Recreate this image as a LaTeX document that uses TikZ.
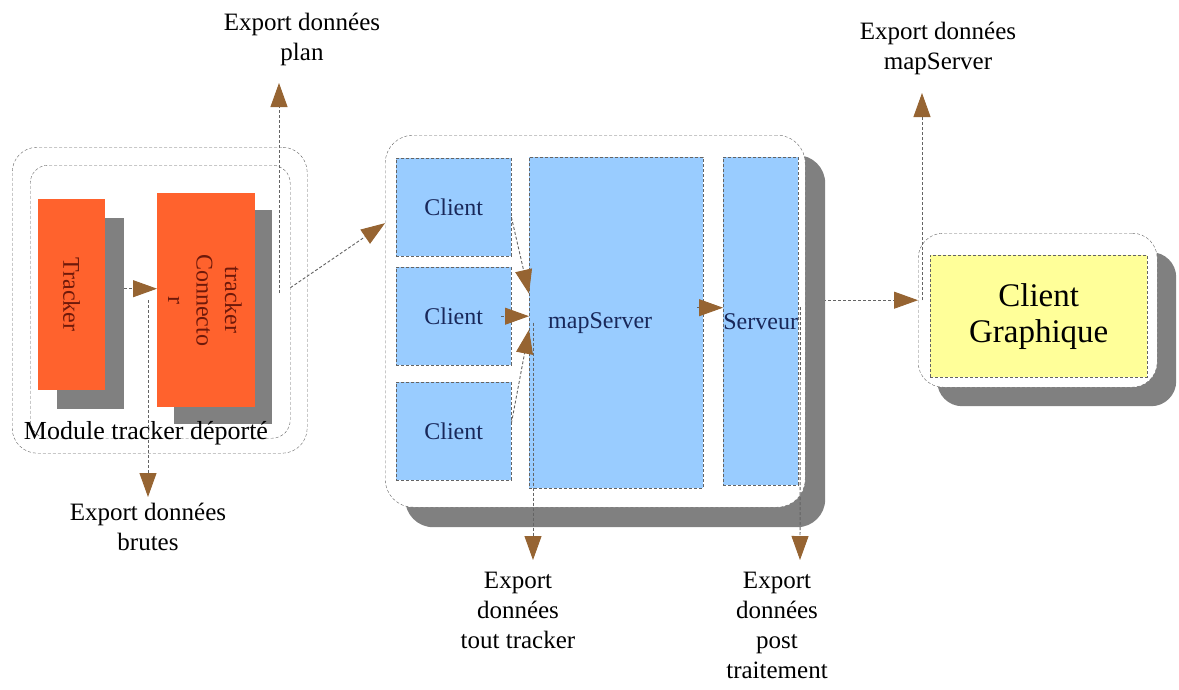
\documentclass[tikz,border=0pt]{standalone}
\usepackage{fontspec}
\setmainfont{Liberation Serif}
\usepackage{graphicx}
\usepackage{tikz}
\usetikzlibrary{arrows.meta, positioning, shadows, backgrounds}

\definecolor{trackorange}{RGB}{255,98,45}
\definecolor{srvblue}{RGB}{153,204,255}
\definecolor{guiyellow}{RGB}{255,255,153}
\definecolor{shadowgray}{RGB}{128,128,128}
\definecolor{tipbrown}{RGB}{150,100,50}
\definecolor{dashgray}{RGB}{100,100,100}
\definecolor{redtext}{RGB}{110,25,10}
\definecolor{bluetext}{RGB}{25,40,90}

\newcommand{\lbltxt}{\fontsize{24}{30}\selectfont}
\newcommand{\exptxt}{\fontsize{25}{30}\selectfont}

\begin{document}
\begin{tikzpicture}[x=1pt, y=-1pt,
        container/.style={draw=dashgray, dash pattern=on 3pt off 2pt, rounded corners=25pt, fill=white, inner sep=0pt, anchor=north west},
        trackbox/.style={fill=trackorange, inner sep=0pt, anchor=north west, text=redtext, font=\lbltxt, align=center},
        srvbox/.style={draw=dashgray, dash pattern=on 3pt off 2pt, fill=srvblue, inner sep=0pt, anchor=north west, text=bluetext, font=\lbltxt},
        exportlbl/.style={font=\exptxt, align=center, inner sep=0pt},
        arrow/.style={draw=dashgray, dash pattern=on 3pt off 2pt, line width=0.9pt, -{Triangle[length=24pt, width=17pt, color=tipbrown]}},
        dropped/.style={drop shadow={shadow xshift=#1, shadow yshift=-#1, fill=shadowgray, opacity=1}}]

        \useasboundingbox (0,0) rectangle (1179,689);

        % Module tracker
        \node[container, fill=none, minimum width=295pt, minimum height=306pt] (modouter) at (12,147) {};
        \node[container, fill=none, rounded corners=18pt, minimum width=260pt, minimum height=273pt] (modinner) at (30,165) {};
        \node[trackbox, dropped=19pt, minimum width=67pt, minimum height=191pt] (tracker) at (38,199) {\rotatebox{-90}{Tracker}};
        \node[trackbox, dropped=17pt, minimum width=98pt, minimum height=214pt] (tconn) at (157,193)
            {\rotatebox{-90}{\fontsize{24}{28.5}\selectfont\begin{tabular}{@{}c@{}}tracker\\Connecto\\r\end{tabular}}\hspace{8pt}};
        \node[font=\fontsize{26}{30}\selectfont, inner sep=0pt] (modlabel) at (146,433) {Module tracker déporté};

        % Server
        \node[container, rounded corners=28pt, dropped=20pt, minimum width=420pt, minimum height=372pt] (midouter) at (385,135) {};
        \node[srvbox, minimum width=115pt, minimum height=98pt] (client1) at (396,158) {Client};
        \node[srvbox, minimum width=115pt, minimum height=98pt] (client2) at (396,267) {Client};
        \node[srvbox, minimum width=115pt, minimum height=98pt] (client3) at (396,382) {Client};
        \node[srvbox, minimum width=174pt, minimum height=331pt,
            label={[font=\lbltxt, text=bluetext, anchor=west, xshift=19pt, inner sep=0pt]west:mapServer}] (mapserver) at (529,157) {};
        \node[srvbox, minimum width=75pt, minimum height=328pt] (serveur) at (723,157) {Serveur};

        % Graphic client
        \node[container, dropped=19pt, minimum width=239pt, minimum height=154pt] (cgouter) at (918,233) {};
        \node[srvbox, fill=guiyellow, text=black, font=\fontsize{33}{36}\selectfont, align=center,
            minimum width=217pt, minimum height=122pt] (cgui) at (930,255) {Client\\Graphique};

        % Export points
        \coordinate (plantip) at (279,83);
        \coordinate (planfoot) at (279,293);
        \coordinate (brutestip) at (148,497);
        \coordinate (touttip) at (533,560);
        \coordinate (posttip) at (800,560);
        \coordinate (mstip) at (922,93);

        \node[exportlbl, above=17pt of plantip, xshift=23pt] (plan) {Export données\\plan};
        \node[exportlbl, below=6pt of brutestip] (brutes) {Export données\\brutes};
        \node[exportlbl, below=12pt of touttip, xshift=-15pt] (tout) {Export\\données\\tout tracker};
        \node[exportlbl, below=12pt of posttip, xshift=-23pt] (post) {Export\\données\\post\\traitement};
        \node[exportlbl, above=18pt of mstip, xshift=16pt] (msexp) {Export données\\mapServer};

        % Arrows
        \draw[arrow] ([xshift=19pt, yshift=6pt]tracker.east) -- ([yshift=6pt]tracker.east -| tconn.west);
        \draw[arrow] (brutestip |- tconn.west) -- (brutestip);
        \draw[arrow] (planfoot) -- (plantip);
        \draw[arrow] ([yshift=14pt]modinner.east) -- (midouter.155);

        \draw[arrow] ([yshift=-10pt]client1.east) -- ([yshift=29pt]mapserver.west);
        \draw[arrow] ([xshift=-10pt]client2.east) -- (client2.east -| mapserver.west);
        \draw[arrow] ([yshift=8pt]client3.east) -- ([yshift=-7pt]mapserver.west);
        \draw[arrow] ([xshift=-6pt, yshift=15pt]mapserver.east) -- ([yshift=15pt]mapserver.east -| serveur.west);

        \draw[arrow] ([xshift=4pt]mapserver.west) -- (touttip);
        \draw[arrow] ([xshift=2pt, yshift=14pt]serveur.east) -- (posttip);
        \draw[arrow] ([xshift=4pt, yshift=10pt]cgouter.west) -- (mstip);

        \begin{scope}[on background layer]
            \fill[white] (0,0) rectangle (1179,689);
            \draw[arrow] ([yshift=21pt]serveur.east) -- ([yshift=21pt]serveur.east -| cgouter.west);
        \end{scope}

    \end{tikzpicture}
\end{document}
